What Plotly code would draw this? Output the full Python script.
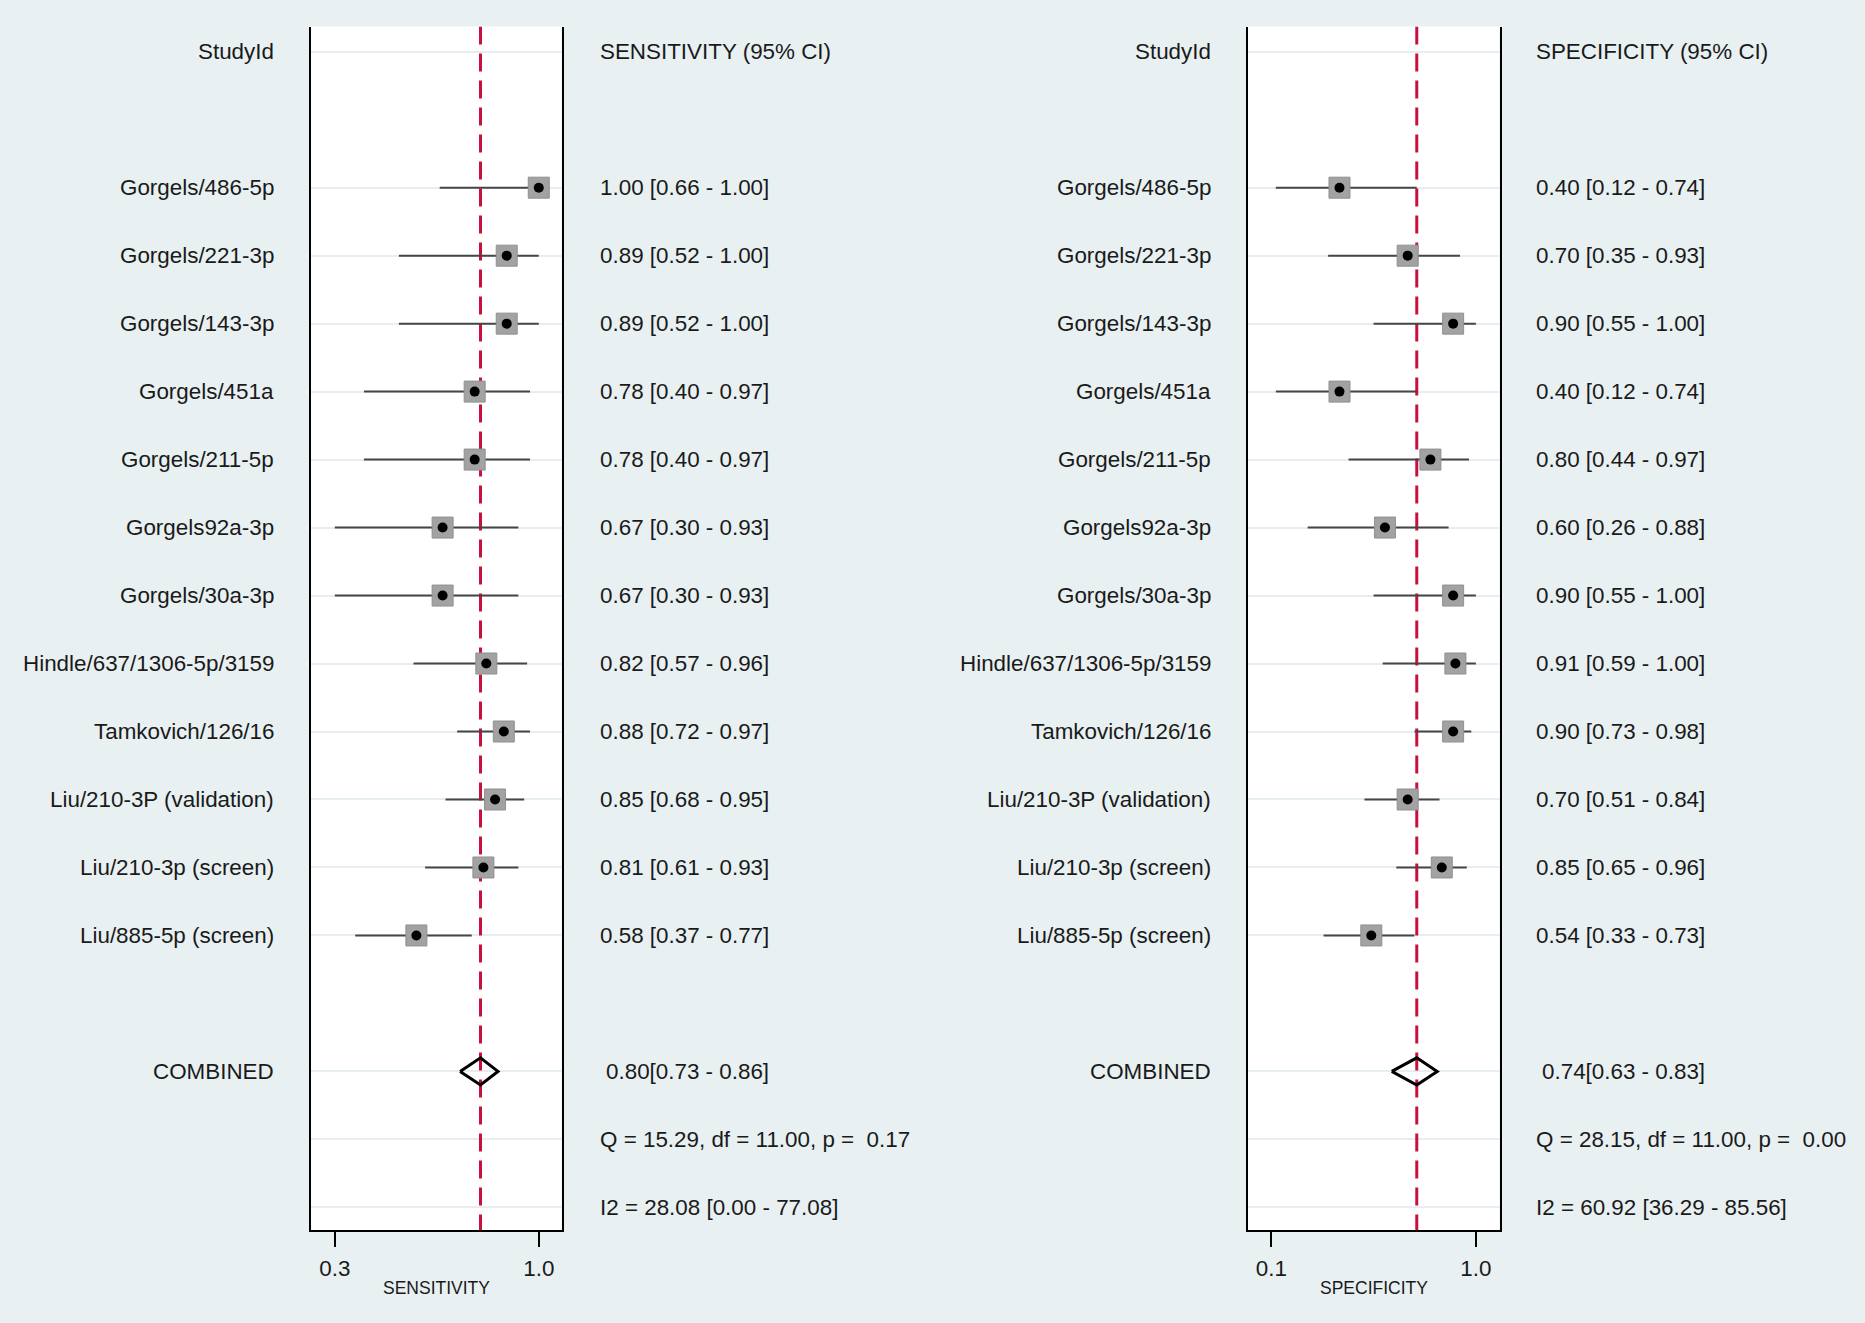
import plotly.graph_objects as go

# ---------------- data ----------------
studies = ["Gorgels/486-5p", "Gorgels/221-3p", "Gorgels/143-3p", "Gorgels/451a",
           "Gorgels/211-5p", "Gorgels92a-3p", "Gorgels/30a-3p", "Hindle/637/1306-5p/3159",
           "Tamkovich/126/16", "Liu/210-3P (validation)", "Liu/210-3p (screen)",
           "Liu/885-5p (screen)"]
sens = [1.00, 0.89, 0.89, 0.78, 0.78, 0.67, 0.67, 0.82, 0.88, 0.85, 0.81, 0.58]
sens_lo = [0.66, 0.52, 0.52, 0.40, 0.40, 0.30, 0.30, 0.57, 0.72, 0.68, 0.61, 0.37]
sens_hi = [1.00, 1.00, 1.00, 0.97, 0.97, 0.93, 0.93, 0.96, 0.97, 0.95, 0.93, 0.77]
spec = [0.40, 0.70, 0.90, 0.40, 0.80, 0.60, 0.90, 0.91, 0.90, 0.70, 0.85, 0.54]
spec_lo = [0.12, 0.35, 0.55, 0.12, 0.44, 0.26, 0.55, 0.59, 0.73, 0.51, 0.65, 0.33]
spec_hi = [0.74, 0.93, 1.00, 0.74, 0.97, 0.88, 1.00, 1.00, 0.98, 0.84, 0.96, 0.73]
pooled_sens = [0.80, 0.73, 0.86]
pooled_spec = [0.74, 0.63, 0.83]
stats_sens = ["Q = 15.29, df = 11.00, p =\u00a0\u00a00.17", "I2 = 28.08 [0.00 - 77.08]"]
stats_spec = ["Q = 28.15, df = 11.00, p =\u00a0\u00a00.00", "I2 = 60.92 [36.29 - 85.56]"]
ticks_sens = [0.3, 1.0]
ticks_spec = [0.1, 1.0]
tick_labels_sens = ["0.3", "1.0"]
tick_labels_spec = ["0.1", "1.0"]

# ---------------- layout constants ----------------
W, H = 1865, 1323
BG = "#E8F0F2"
TXT = "#1a1a1a"
FONT = "Liberation Sans, Arial, sans-serif"
FS = 22.4

study_rows = list(range(2, 2 + len(studies)))
row_comb, row_q, row_i2 = 15, 16, 17
grid_rows = [0] + study_rows + [row_comb, row_q, row_i2]
yrange = [17.333, -0.371]
ydom = [1 - 1230 / H, 1 - 26.5 / H]

panels = [
    dict(xa="x", ya="y", dom=[310.5 / W, 561.5 / W], rng=[0.2166, 1.078],
         est=sens, lo=sens_lo, hi=sens_hi, pooled=pooled_sens, stats=stats_sens,
         ticks=ticks_sens, ticklab=tick_labels_sens, title="SENSITIVITY",
         head="SENSITIVITY (95% CI)", lab_x=275.5 / W, val_x=597.5 / W, comb_x=604 / W),
    dict(xa="x2", ya="y2", dom=[1248 / W, 1499.5 / W], rng=[-0.0025, 1.104],
         est=spec, lo=spec_lo, hi=spec_hi, pooled=pooled_spec, stats=stats_spec,
         ticks=ticks_spec, ticklab=tick_labels_spec, title="SPECIFICITY",
         head="SPECIFICITY (95% CI)", lab_x=1213 / W, val_x=1534 / W, comb_x=1540 / W),
]

fig = go.Figure()
annotations = []

for i, p in enumerate(panels):
    xa, ya = p["xa"], p["ya"]
    # pooled dashed reference line
    fig.add_trace(go.Scatter(x=[p["pooled"][0], p["pooled"][0]], y=[yrange[1], yrange[0]],
                             mode="lines", line=dict(color="#C8103C", width=3, dash="18px,9px"),
                             xaxis=xa, yaxis=ya, hoverinfo="skip", showlegend=False))
    # CI lines
    cx, cy = [], []
    for r, lo, hi in zip(study_rows, p["lo"], p["hi"]):
        cx += [lo, hi, None]
        cy += [r, r, None]
    fig.add_trace(go.Scatter(x=cx, y=cy, mode="lines", line=dict(color="#454545", width=2),
                             xaxis=xa, yaxis=ya, hoverinfo="skip", showlegend=False))
    # square markers
    fig.add_trace(go.Scatter(x=p["est"], y=study_rows, mode="markers",
                             marker=dict(symbol="square", size=21, color="#A2A2A2",
                                         line=dict(color="#909090", width=1)),
                             xaxis=xa, yaxis=ya, hoverinfo="skip", showlegend=False))
    fig.add_trace(go.Scatter(x=p["est"], y=study_rows, mode="markers",
                             marker=dict(symbol="circle", size=10, color="#000000"),
                             xaxis=xa, yaxis=ya, showlegend=False))
    # diamond
    e, lo, hi = p["pooled"]
    h = 0.2
    fig.add_trace(go.Scatter(x=[lo, e, hi, e, lo], y=[row_comb, row_comb - h, row_comb, row_comb + h, row_comb],
                             mode="lines", line=dict(color="#000000", width=3),
                             xaxis=xa, yaxis=ya, hoverinfo="skip", showlegend=False))

    # text columns
    annotations.append(dict(text="StudyId", x=p["lab_x"], y=0, xref="paper", yref=ya,
                            xanchor="right", yanchor="middle", showarrow=False))
    annotations.append(dict(text=p["head"], x=p["val_x"], y=0, xref="paper", yref=ya,
                            xanchor="left", yanchor="middle", showarrow=False))
    for r, name, v, lo_, hi_ in zip(study_rows, studies, p["est"], p["lo"], p["hi"]):
        annotations.append(dict(text=name, x=p["lab_x"], y=r, xref="paper", yref=ya,
                                xanchor="right", yanchor="middle", showarrow=False))
        annotations.append(dict(text=f"{v:.2f} [{lo_:.2f} - {hi_:.2f}]", x=p["val_x"], y=r,
                                xref="paper", yref=ya, xanchor="left", yanchor="middle",
                                showarrow=False))
    annotations.append(dict(text="COMBINED", x=p["lab_x"], y=row_comb, xref="paper", yref=ya,
                            xanchor="right", yanchor="middle", showarrow=False))
    annotations.append(dict(text=f"{e:.2f}[{lo:.2f} - {hi:.2f}]", x=p["comb_x"], y=row_comb,
                            xref="paper", yref=ya, xanchor="left", yanchor="middle", showarrow=False))
    annotations.append(dict(text=p["stats"][0], x=p["val_x"], y=row_q, xref="paper", yref=ya,
                            xanchor="left", yanchor="middle", showarrow=False))
    annotations.append(dict(text=p["stats"][1], x=p["val_x"], y=row_i2, xref="paper", yref=ya,
                            xanchor="left", yanchor="middle", showarrow=False))
    annotations.append(dict(text=p["title"], x=(p["dom"][0] + p["dom"][1]) / 2, y=1 - 1288 / H,
                            xref="paper", yref="paper", xanchor="center", yanchor="middle",
                            showarrow=False, font=dict(size=17.5, color=TXT, family=FONT)))

    axis_x = dict(domain=p["dom"], range=p["rng"], showgrid=False, zeroline=False,
                  showline=True, linecolor="#000000", linewidth=2, mirror=False,
                  ticks="outside", ticklen=15, tickwidth=2, tickcolor="#000000",
                  tickvals=p["ticks"], ticktext=p["ticklab"], ticklabelstandoff=2,
                  tickfont=dict(size=FS, color=TXT, family=FONT), anchor=ya)
    axis_y = dict(domain=ydom, range=yrange, showgrid=True, gridcolor="#E6EEF1", gridwidth=2,
                  zeroline=False, showline=True, mirror=True, linecolor="#000000", linewidth=2,
                  tickvals=grid_rows, showticklabels=False, ticks="", anchor=xa)
    key = "" if i == 0 else "2"
    fig.layout["xaxis" + key] = axis_x
    fig.layout["yaxis" + key] = axis_y

fig.update_layout(
    width=W, height=H, autosize=False,
    margin=dict(l=0, r=0, t=0, b=0),
    paper_bgcolor=BG, plot_bgcolor="#FFFFFF",
    font=dict(family=FONT, size=FS, color=TXT),
    annotations=annotations,
    showlegend=False,
)

fig.write_html("out.html", config={"displayModeBar": False},
               post_script="document.body.style.margin='0';")
